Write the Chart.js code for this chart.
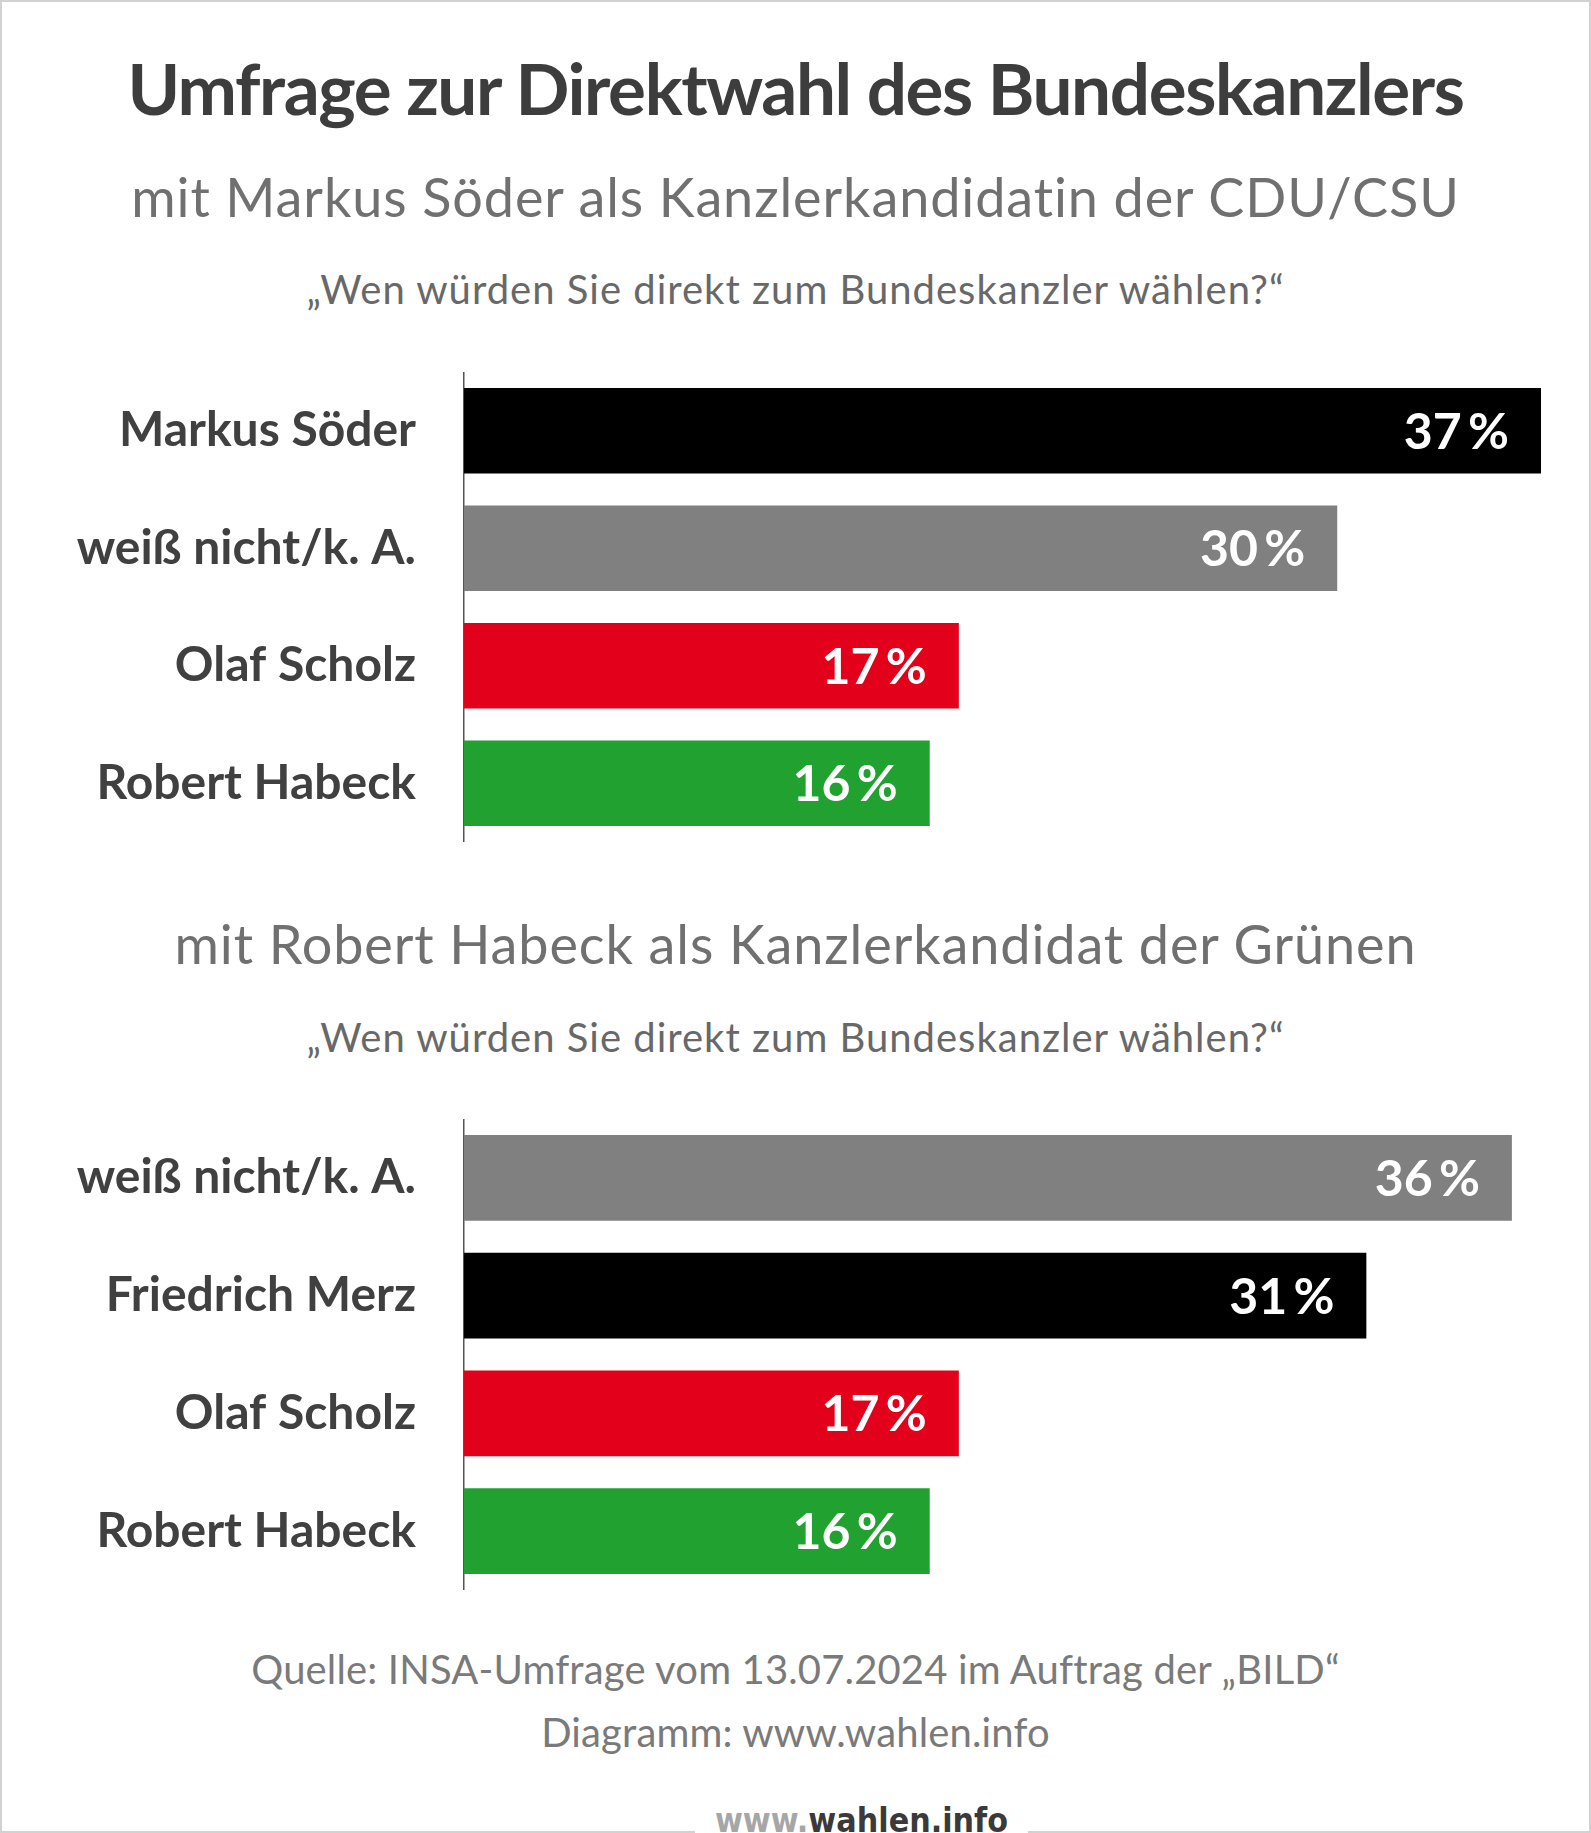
<!DOCTYPE html>
<html lang="de">
<head>
<meta charset="utf-8">
<title>Umfrage zur Direktwahl des Bundeskanzlers</title>
<script src="https://cdn.jsdelivr.net/npm/chart.js@4.4.1/dist/chart.umd.min.js"></script>
<style>
  html, body { margin: 0; padding: 0; background: #fff; }
  #page { position: relative; width: 1591px; height: 1833px; overflow: hidden; font-family: Lato, sans-serif; }
  #frame { position: absolute; left: 0; top: 0; width: 1591px; height: 1833px; box-sizing: border-box; border: 2px solid #d2d2d2; }
  .txt { position: absolute; left: 0; width: 1591px; text-align: center; line-height: 1; white-space: nowrap; }
  .title { font-weight: 700; font-size: 71px; letter-spacing: -1.4px; color: #3d3d3d; }
  .sub { font-weight: 400; font-size: 54px; letter-spacing: 0.9px; color: #707070; }
  .question { font-weight: 400; font-size: 40px; letter-spacing: 1px; color: #686868; }
  .source { font-weight: 400; font-size: 40px; letter-spacing: 0.15px; color: #7a7a7a; }
  .chartbox { position: absolute; left: 0; width: 1541px; }
  #logo { position: absolute; left: 695px; width: 333px; top: 1800px; height: 33px; background: #fff; overflow: hidden; }
  #logo span.inner { position: absolute; left: 0; width: 333px; text-align: center; top: 3px; line-height: 1;
    font-family: "DejaVu Sans", sans-serif; font-weight: 700; font-size: 34px; transform: scaleX(0.89); white-space: nowrap; }
</style>
</head>
<body>
<div id="page">
  <div id="frame"></div>
  <div class="txt title" style="top:52px">Umfrage zur Direktwahl des Bundeskanzlers</div>
  <div class="txt sub" style="top:170px">mit Markus Söder als Kanzlerkandidatin der CDU/CSU</div>
  <div class="txt question" style="top:269px">„Wen würden Sie direkt zum Bundeskanzler wählen?“</div>

  <div class="chartbox" style="top:372px;height:470px"><canvas id="chart1"></canvas></div>

  <div class="txt sub" style="top:917px">mit Robert Habeck als Kanzlerkandidat der Grünen</div>
  <div class="txt question" style="top:1017px">„Wen würden Sie direkt zum Bundeskanzler wählen?“</div>

  <div class="chartbox" style="top:1119px;height:471px"><canvas id="chart2"></canvas></div>

  <div class="txt source" style="top:1649px">Quelle: INSA-Umfrage vom 13.07.2024 im Auftrag der „BILD“</div>
  <div class="txt source" style="top:1712px">Diagramm: www.wahlen.info</div>

  <div id="logo"><span class="inner"><span style="color:#a6a6a6">www.</span><span style="color:#3a3a3a">wahlen.info</span></span></div>
</div>

<script>
// Umfrage mit Söder als Kandidat
const labels1 = ['Markus Söder', 'weiß nicht/k. A.', 'Olaf Scholz', 'Robert Habeck'];
const values1 = [37, 30, 17, 16];

// Umfrage mit Merz als Kandidat
const labels2 = ['weiß nicht/k. A.', 'Friedrich Merz', 'Olaf Scholz', 'Robert Habeck'];
const values2 = [36, 31, 17, 16];

const xMax = 37;

const personColors = {
    'Markus Söder': '#000000',
    'Friedrich Merz': '#000000',
    'weiß nicht/k. A.': '#808080',
    'Olaf Scholz': '#e2001a',
    'Robert Habeck': '#21a12f'
};

// white percentage inside the bar end
const valueLabels = {
    id: 'valueLabels',
    afterDatasetsDraw(chart) {
        const ctx = chart.ctx;
        const meta = chart.getDatasetMeta(0);
        const data = chart.data.datasets[0].data;
        ctx.save();
        ctx.font = 'bold 50px Lato';
        ctx.fillStyle = '#ffffff';
        ctx.textAlign = 'right';
        ctx.textBaseline = 'alphabetic';
        meta.data.forEach((bar, i) => {
            ctx.fillText(data[i] + '\u2009%', bar.x - 32, bar.y + 18);
        });
        ctx.restore();
    }
};

function makeChart(id, labels, values) {
    const ctx = document.getElementById(id).getContext('2d');
    return new Chart(ctx, {
        type: 'bar',
        data: {
            labels: labels,
            datasets: [{
                data: values,
                backgroundColor: labels.map(l => personColors[l]),
                borderWidth: 0,
                barPercentage: 0.728,
                categoryPercentage: 1
            }]
        },
        options: {
            indexAxis: 'y',
            responsive: true,
            maintainAspectRatio: false,
            animation: false,
            layout: { padding: 0 },
            plugins: {
                legend: { display: false },
                tooltip: { enabled: false }
            },
            scales: {
                x: { display: false, min: 0, max: xMax },
                y: {
                    grid: { display: false },
                    border: { display: true, color: '#555555', width: 1.5 },
                    ticks: {
                        color: '#404040',
                        padding: 40,
                        font: { family: 'Lato', weight: 'bold', size: 48 }
                    },
                    afterFit: function(scale) {
                        scale.width = 464;
                        // keep the axis the full height of the box
                        scale.paddingTop = 0;
                        scale.paddingBottom = 0;
                    }
                }
            }
        },
        plugins: [valueLabels]
    });
}

makeChart('chart1', labels1, values1);
makeChart('chart2', labels2, values2);
</script>
</body>
</html>
